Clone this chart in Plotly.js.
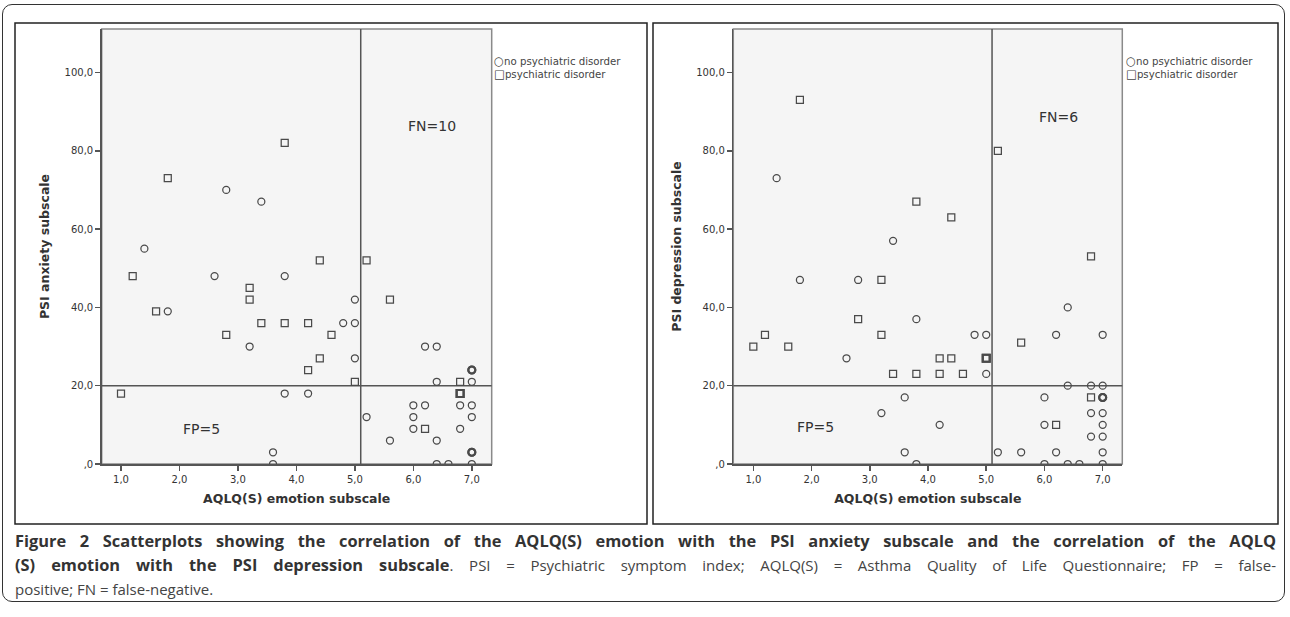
<!DOCTYPE html>
<html><head><meta charset="utf-8">
<script src="https://cdn.plot.ly/plotly-3.0.1.min.js"></script>
<style>
html,body{margin:0;padding:0;background:#fff;width:1290px;height:617px;overflow:hidden}
#frame{position:absolute;left:2px;top:4px;width:1283px;height:598px;border:1.5px solid #333;border-radius:10px;box-sizing:border-box}
#chart{position:absolute;left:0;top:0;width:1290px;height:617px}
#caption{position:absolute;left:15px;top:529px;width:1261px;font-family:'Open Sans',sans-serif;font-size:15px;color:#444;line-height:24px}
#caption .ln{text-align:justify;text-align-last:justify;white-space:normal}
#caption .last{text-align:left}
#caption b{color:#333;font-size:16.4px}
</style></head>
<body>
<div id="frame"></div>
<div id="chart"></div>
<div id="caption">
<div class="ln"><b>Figure 2 Scatterplots showing the correlation of the AQLQ(S) emotion with the PSI anxiety subscale and the correlation of the AQLQ</b></div>
<div class="ln"><b>(S) emotion with the PSI depression subscale</b>. PSI = Psychiatric symptom index; AQLQ(S) = Asthma Quality of Life Questionnaire; FP = false-</div>
<div class="last">positive; FN = false-negative.</div>
</div>
<script>
// ---- Data: left panel (PSI anxiety) ----
const anxNoDisX = [2.8,3.4,1.4,1.8,2.6,3.2,3.8,3.8,4.2,4.8,5.0,5.0,5.0,3.6,3.6,6.2,6.4,7.0,7.0,6.4,7.0,6.0,6.2,6.8,7.0,5.2,6.0,7.0,6.0,6.8,5.6,6.4,7.0,7.0,6.4,6.6,7.0];
const anxNoDisY = [70,67,55,39,48,30,48,18,18,36,42,36,27,3,0,30,30,24,24,21,21,15,15,15,15,12,12,12,9,9,6,6,3,3,0,0,0];
const anxDisX = [1.8,3.8,1.2,1.6,2.8,3.2,3.2,3.4,3.8,4.2,4.2,4.4,4.4,4.6,5.0,1.0,5.2,5.6,6.8,6.8,6.8,6.2];
const anxDisY = [73,82,48,39,33,45,42,36,36,36,24,52,27,33,21,18,52,42,21,18,18,9];
// ---- Data: right panel (PSI depression) ----
const depNoDisX = [1.4,3.4,1.8,2.8,3.8,4.8,5.0,2.6,5.0,3.6,3.2,4.2,3.6,3.8,5.2,5.6,6.4,6.2,7.0,6.4,6.8,7.0,6.0,7.0,7.0,6.8,7.0,6.0,7.0,6.8,7.0,6.2,7.0,6.0,6.4,6.6,7.0];
const depNoDisY = [73,57,47,47,37,33,33,27,23,17,13,10,3,0,3,3,40,33,33,20,20,20,17,17,17,13,13,10,10,7,7,3,3,0,0,0,0];
const depDisX = [1.8,5.2,3.8,4.4,3.2,2.8,1.2,3.2,1.0,1.6,4.2,4.4,5.0,5.0,3.4,3.8,4.2,4.6,6.8,5.6,6.8,6.2];
const depDisY = [93,80,67,63,47,37,33,33,30,30,27,27,27,27,23,23,23,23,53,31,17,10];
// cut-offs
const cutAQLQ = 5.1;
const cutPSI = 20;
// ticks
const xTickVals = [1,2,3,4,5,6,7];
const xTickText = ['1,0','2,0','3,0','4,0','5,0','6,0','7,0'];
const yTickVals = [0,20,40,60,80,100];
const yTickText = [',0','20,0','40,0','60,0','80,0','100,0'];
const seriesNames = ['no psychiatric disorder','psychiatric disorder'];
const seriesGlyphs = ['○','□'];
const panelTitles = ['PSI anxiety subscale','PSI depression subscale'];
const xTitle = 'AQLQ(S) emotion subscale';
const quadLabels = [['FN=10','FP=5'],['FN=6','FP=5']];

const W = 1290, H = 617;
const px = v => v / W, py = v => 1 - v / H;
const ink = '#4a4a4a';

function widths(xs, ys){
  const cnt = {};
  xs.forEach((x,i)=>{const k=x+'_'+ys[i]; cnt[k]=(cnt[k]||0)+1;});
  return xs.map((x,i)=> cnt[x+'_'+ys[i]]>1 ? 2.1 : 1.25);
}
function tr(xs, ys, sym, name, ax){
  return {type:'scatter', mode:'markers', x:xs, y:ys, name:name, xaxis:ax[0], yaxis:ax[1],
    showlegend:false, hoverinfo:'x+y+name',
    marker:{symbol:sym, size:7, color:ink, line:{color:ink, width:widths(xs,ys)}}};
}
const data = [
  tr(anxNoDisX, anxNoDisY, 'circle-open', seriesNames[0], ['x','y']),
  tr(anxDisX, anxDisY, 'square-open', seriesNames[1], ['x','y']),
  tr(depNoDisX, depNoDisY, 'circle-open', seriesNames[0], ['x2','y2']),
  tr(depDisX, depDisY, 'square-open', seriesNames[1], ['x2','y2'])
];
const tickFont = {family:'DejaVu Sans', size:10, color:'#333'};
const titleFont = {family:'DejaVu Sans', size:12.5, color:'#333', weight:'bold'};
function xa(dom, anchor, range){
  return {domain:dom, anchor:anchor, range:range, showgrid:false, zeroline:false,
    showline:true, linecolor:'#555', linewidth:1.5, ticks:'outside', ticklen:5, tickwidth:1.5, tickcolor:'#555',
    tickvals:xTickVals, ticktext:xTickText, tickfont:tickFont, fixedrange:true,
    title:{text:xTitle, font:titleFont, standoff:10}};
}
function ya(anchor, title){
  return {domain:[py(464), py(29)], anchor:anchor, range:[0,111.1], showgrid:false, zeroline:false,
    showline:true, linecolor:'#555', linewidth:1.5, ticks:'outside', ticklen:5, tickwidth:1.5, tickcolor:'#555',
    tickvals:yTickVals, ticktext:yTickText, tickfont:tickFont, fixedrange:true,
    title:{text:title, font:titleFont, standoff:12}};
}
const shapes = [];
// panel boxes
[[15,647],[653,1278]].forEach(b=>shapes.push({type:'rect', xref:'paper', yref:'paper',
  x0:px(b[0]), x1:px(b[1]), y0:py(524), y1:py(23), line:{color:'#222', width:1.5}, fillcolor:'rgba(0,0,0,0)'}));
// plot frames and cut-off lines
[['x','y'],['x2','y2']].forEach(a=>{
  shapes.push({type:'rect', xref:a[0]+' domain', yref:a[1]+' domain', x0:0,x1:1,y0:0,y1:1,
    line:{color:'#8a8a8a', width:1.5}, fillcolor:'#f5f5f5', layer:'below'});
  shapes.push({type:'line', xref:a[0], yref:a[1]+' domain', x0:cutAQLQ, x1:cutAQLQ, y0:0, y1:1,
    line:{color:'#555', width:1.5}, layer:'below'});
  shapes.push({type:'line', xref:a[0]+' domain', yref:a[1], x0:0, x1:1, y0:cutPSI, y1:cutPSI,
    line:{color:'#555', width:1.5}, layer:'below'});
});
const annFont = {family:'DejaVu Sans', size:14, color:'#333'};
const annotations = [];
[[431.7,126,201.7,429.3,492],[1058,116.7,815,426.7,1123.5]].forEach((p,i)=>{
  annotations.push({xref:'paper', yref:'paper', x:px(p[0]), y:py(p[1]), xanchor:'center', yanchor:'middle',
    text:quadLabels[i][0], showarrow:false, font:annFont});
  annotations.push({xref:'paper', yref:'paper', x:px(p[2]), y:py(p[3]), xanchor:'center', yanchor:'middle',
    text:quadLabels[i][1], showarrow:false, font:annFont});
  seriesNames.forEach((nm,k)=>{
    annotations.push({xref:'paper', yref:'paper', x:px(p[4]), y:py(60.5 + 13*k), xanchor:'left', yanchor:'middle', align:'left',
      text:'<span style="font-size:11.5px">'+seriesGlyphs[k]+'</span>'+nm,
      showarrow:false, font:{family:'DejaVu Sans', size:10.2, color:'#444'}});
  });
});
const layout = {
  width:W, height:H, margin:{l:0,r:0,t:0,b:0}, paper_bgcolor:'rgba(0,0,0,0)', plot_bgcolor:'rgba(0,0,0,0)',
  showlegend:false,
  xaxis: xa([px(101.7), px(491.7)], 'y', [0.67, 7.34]),
  yaxis: ya('x', panelTitles[0]),
  xaxis2: xa([px(733.3), px(1122.3)], 'y2', [0.656, 7.337]),
  yaxis2: ya('x2', panelTitles[1]),
  shapes: shapes, annotations: annotations
};
Plotly.newPlot('chart', data, layout, {displayModeBar:false, staticPlot:true});
</script>
</body></html>
